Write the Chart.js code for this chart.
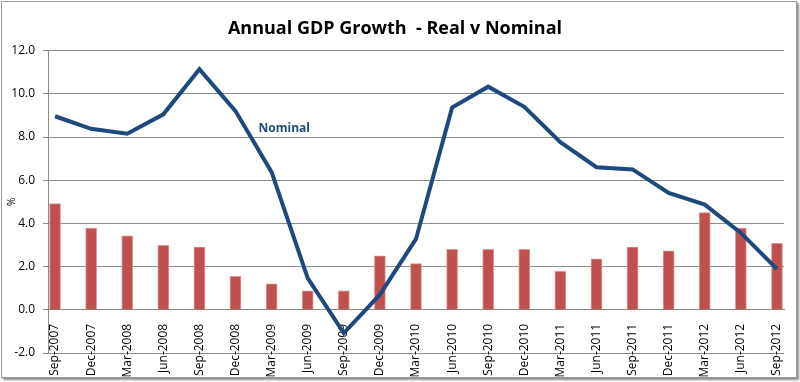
<!DOCTYPE html>
<html>
<head>
<meta charset="utf-8">
<script src="https://cdn.jsdelivr.net/npm/chart.js@4.4.1/dist/chart.umd.min.js"></script>
<style>
  html, body { margin: 0; padding: 0; background: #ffffff; }
  #frame { position: absolute; left: 1px; top: 1px; width: 794px; height: 375px;
           border: 1px solid #9a9a9a; box-shadow: 2px 2px 2px rgba(0,0,0,0.45); background: #fff; }
  #wrap { position: absolute; left: 0; top: 0; width: 800px; height: 382px; }
</style>
</head>
<body>
<div id="frame"></div>
<div id="wrap"><canvas id="c" width="800" height="382"></canvas></div>
<script>
const categories = ["Sep-2007","Dec-2007","Mar-2008","Jun-2008","Sep-2008","Dec-2008","Mar-2009","Jun-2009","Sep-2009","Dec-2009","Mar-2010","Jun-2010","Sep-2010","Dec-2010","Mar-2011","Jun-2011","Sep-2011","Dec-2011","Mar-2012","Jun-2012","Sep-2012"];
const realGrowth = [4.92,3.78,3.43,2.98,2.90,1.55,1.20,0.88,0.88,2.50,2.14,2.80,2.80,2.80,1.78,2.36,2.90,2.73,4.50,3.78,3.08];
const nominalGrowth = [8.96,8.38,8.15,9.05,11.14,9.20,6.37,1.47,-1.08,0.70,3.28,9.36,10.33,9.40,7.76,6.60,6.50,5.41,4.87,3.56,1.89];
const yTicks = [-2,0,2,4,6,8,10,12];
const lineLabel = { text: "Nominal", index: 6.35, value: 8.4 };

const realData = realGrowth.map((v, i) => ({ x: i, y: v }));
const nominalData = nominalGrowth.map((v, i) => ({ x: i, y: v }));

const labelPlugin = {
  id: 'lineLabel',
  afterDatasetsDraw(chart) {
    const { ctx, scales } = chart;
    const x = scales.x.getPixelForValue(lineLabel.index);
    const y = scales.y.getPixelForValue(lineLabel.value);
    ctx.save();
    ctx.font = 'bold 12px "Open Sans", sans-serif';
    ctx.fillStyle = '#1F497D';
    ctx.textAlign = 'center';
    ctx.textBaseline = 'middle';
    ctx.fillText(lineLabel.text, x, y);
    ctx.restore();
  }
};

new Chart(document.getElementById('c'), {
  data: {
    datasets: [
      {
        type: 'line',
        label: 'Nominal',
        data: nominalData,
        borderColor: '#1F497D',
        borderWidth: 4,
        pointRadius: 0,
        tension: 0,
        order: 0
      },
      {
        type: 'bar',
        label: 'Real',
        data: realData,
        backgroundColor: '#C0504D',
        borderColor: '#D99694',
        borderWidth: 1,
        barThickness: 11,
        order: 1
      }
    ]
  },
  options: {
    responsive: false,
    animation: false,
    layout: { padding: { left: 6, right: 16, top: 0, bottom: 29 } },
    plugins: {
      legend: { display: false },
      tooltip: { enabled: false },
      title: {
        display: true,
        text: 'Annual GDP Growth  - Real v Nominal',
        color: '#000',
        font: { family: '"Open Sans", sans-serif', size: 18, weight: 'bold' },
        padding: { top: 18, bottom: 11 }
      }
    },
    scales: {
      x: {
        type: 'linear',
        position: { y: 0 },
        offset: false,
        min: -0.195,
        max: 20.195,
        afterBuildTicks: s => { s.ticks = categories.map((_, i) => ({ value: i })); },
        ticks: {
          autoSkip: false,
          maxRotation: 90,
          minRotation: 90,
          padding: 6,
          color: '#000',
          font: { family: '"Open Sans", sans-serif', size: 12 },
          callback: v => categories[v]
        },
        grid: { display: false },
        border: { display: true, color: '#888' }
      },
      y: {
        min: -2,
        max: 12,
        afterBuildTicks: s => { s.ticks = yTicks.map(v => ({ value: v })); },
        afterFit: s => { s.width = 42; },
        ticks: {
          color: '#000',
          padding: 8,
          font: { family: '"Open Sans", sans-serif', size: 12 },
          callback: v => Number(v).toFixed(1)
        },
        title: {
          display: true,
          text: '%',
          color: '#000',
          font: { family: '"Open Sans", sans-serif', size: 10 },
          padding: 0
        },
        grid: { color: '#8c8c8c', tickLength: 5, lineWidth: 1 },
        border: { display: true, color: '#8c8c8c' }
      }
    }
  },
  plugins: [labelPlugin]
});
</script>
</body>
</html>
